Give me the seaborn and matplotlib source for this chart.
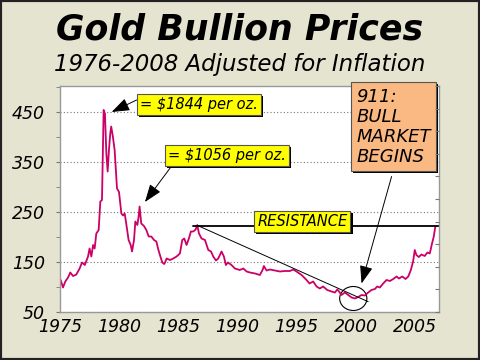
import matplotlib
matplotlib.use("Agg")
import matplotlib.pyplot as plt
import matplotlib.patheffects as pe
from matplotlib.patches import Ellipse, Rectangle
import seaborn as sns
import pandas as pd

# gold price (inflation adjusted)
years = [1975.06, 1975.25, 1975.45, 1975.68, 1975.87, 1976.1, 1976.38, 1976.66, 1976.86,
         1977.1, 1977.37, 1977.5, 1977.65, 1977.8, 1977.93, 1978.07, 1978.27, 1978.41,
         1978.55, 1978.69, 1978.8, 1978.92, 1979.03, 1979.14, 1979.25, 1979.33, 1979.47,
         1979.62, 1979.82, 1979.99, 1980.19, 1980.33, 1980.47, 1980.6, 1980.8, 1980.98,
         1981.09, 1981.26, 1981.37, 1981.54, 1981.65, 1981.73, 1981.87, 1982.1, 1982.3,
         1982.5, 1982.72, 1982.95, 1983.15, 1983.3, 1983.45, 1983.65, 1983.82, 1984.02,
         1984.3, 1984.58, 1984.86, 1985.14, 1985.34, 1985.51, 1985.7, 1985.9, 1986.07,
         1986.27, 1986.47, 1986.61, 1986.75, 1986.97, 1987.26, 1987.54, 1987.77, 1987.96,
         1988.19, 1988.38, 1988.66, 1988.86, 1989.03, 1989.2, 1989.5, 1989.79, 1990.2,
         1990.5, 1990.78, 1991.06, 1991.5, 1991.9, 1992.13, 1992.24, 1992.47, 1992.75,
         1993.17, 1993.6, 1994.0, 1994.44, 1994.72, 1995.0, 1995.43, 1995.85, 1996.1,
         1996.41, 1996.7, 1996.97, 1997.25, 1997.6, 1997.96, 1998.25, 1998.45, 1998.6,
         1998.8, 1999.09, 1999.37, 1999.66, 1999.94, 2000.22, 2000.5, 2000.78, 2001.06,
         2001.34, 2001.63, 2001.82, 2002.05, 2002.33, 2002.61, 2002.9, 2003.18, 2003.46,
         2003.66, 2003.94, 2004.22, 2004.45, 2004.67, 2004.86, 2005.0, 2005.14, 2005.34,
         2005.56, 2005.84, 2006.07, 2006.27, 2006.46, 2006.6, 2006.74]
prices = [114, 99, 111, 119, 129, 122, 125, 137, 149,
          144, 161, 177, 161, 184, 177, 207, 214, 271,
          274, 454, 447, 367, 331, 374, 407, 421, 401,
          374, 297, 290, 247, 243, 247, 227, 194, 184,
          171, 194, 231, 224, 241, 261, 227, 222, 214,
          201, 201, 194, 191, 176, 164, 149, 146, 157,
          154, 157, 161, 167, 194, 197, 184, 197, 211,
          211, 215, 224, 207, 197, 194, 174, 171, 161,
          153, 157, 171, 161, 144, 149, 144, 137, 134,
          137, 131, 129, 127, 124, 134, 142, 133, 135,
          133, 131, 132, 132, 135, 131, 124, 114, 107,
          111, 101, 97, 101, 94, 91, 89, 95, 91,
          84, 89, 84, 79, 77, 80, 84, 83, 89,
          94, 96, 101, 99, 107, 114, 112, 116, 121,
          117, 121, 116, 121, 134, 151, 174, 164, 160,
          165, 162, 169, 167, 187, 200, 221]

resistance = 223
trend_x = [1986.67, 2001.06]
trend_y = [222.6, 70.6]

df = pd.DataFrame({"year": years, "price": prices})

sns.set_style("white")
plt.rcParams['font.family'] = ['DejaVu Sans']
plt.rcParams['text.color'] = 'black'
bg = '#E4E4D0'

fig = plt.figure(figsize=(4.8, 3.6), dpi=100, facecolor=bg)
ax = fig.add_axes([60/480, 48/360, 379/480, 226/360])
ax.set_facecolor('white')

sns.lineplot(data=df, x="year", y="price", ax=ax, color='#CC0066', lw=1.3)

ax.set_xlim(1975, 2007.05)
ax.set_ylim(50, 502)
ax.set_xlabel('')
ax.set_ylabel('')
ax.set_yticks([50, 150, 250, 350, 450])
ax.set_yticks([100, 200, 300, 400, 500], minor=True)
ax.set_xticks([1975, 1980, 1985, 1990, 1995, 2000, 2005])
ax.yaxis.grid(True, which='major', linestyle=(0, (1, 2)), color='#777', lw=0.8)
ax.tick_params(axis='both', which='both', direction='out', length=3, color='#777',
               labelsize=12.5, labelcolor='black', pad=1)
ax.tick_params(axis='y', pad=8)
for lab in ax.get_xticklabels() + ax.get_yticklabels():
    lab.set_fontstyle('italic')
for s in ax.spines.values():
    s.set_color('#999')
    s.set_linewidth(1)

# right side tick marks
ax2 = ax.twinx()
ax2.set_ylim(0, 10)
ax2.set_yticks(range(0, 11))
ax2.tick_params(axis='y', direction='in', length=3, color='#777', labelright=False)
for s in ax2.spines.values():
    s.set_visible(False)

# resistance and trend lines
ax.plot([1986.24, 2007.05], [resistance, resistance], color='black', lw=1.3)
ax.plot(trend_x, trend_y, color='black', lw=0.7)
ax.add_patch(Ellipse((1999.8, 77), 2.3, 48, fill=False, ec='black', lw=0.8))

shadow = [pe.withSimplePatchShadow(offset=(1.5, -1.5), shadow_rgbFace='black', alpha=1)]
arrow = dict(arrowstyle='-|>,head_length=1.1,head_width=0.4', color='black', lw=0.7,
             shrinkA=0, shrinkB=0, mutation_scale=10)

def box(x, y, s, fc, size, **kw):
    t = ax.text(x, y, s, fontsize=size, fontstyle='italic', color='black', clip_on=False,
                zorder=5,
                bbox=dict(boxstyle=kw.pop('bs', 'square,pad=0.2'), fc=fc, ec='#555', lw=0.8), **kw)
    t.get_bbox_patch().set_path_effects(shadow)
    return t

ax.annotate('', xy=(1979.37, 450), xytext=(1981.48, 474), arrowprops=arrow)
ax.annotate('', xy=(1982.18, 270), xytext=(1984.44, 342), arrowprops=arrow)
ax.annotate('', xy=(2000.5, 107), xytext=(2003.04, 321), arrowprops=arrow, zorder=6)

box(1986.77, 465, '= $1844 per oz.', '#FFFF00', 10.5, ha='center', va='center')
box(1989.13, 363, '= $1056 per oz.', '#FFFF00', 10.5, ha='center', va='center')
box(1995.5, 231, 'RESISTANCE', '#FFFF00', 10.5, ha='center', va='center')
box(2000.06, 499, '911:\nBULL\nMARKET\nBEGINS', '#FAB882', 13, ha='left', va='top',
    linespacing=1.15, bs='square,pad=0.3')

fig.text(0.5, 1 - 30/360, 'Gold Bullion Prices', ha='center', va='center',
         fontsize=25, fontweight='bold', fontstyle='italic', color='black')
fig.text(0.5, 1 - 64/360, '1976-2008 Adjusted for Inflation', ha='center', va='center',
         fontsize=16.5, fontstyle='italic', color='black')

fig.patches.append(Rectangle((0, 0), 1, 1, transform=fig.transFigure, fill=False,
                             ec='#222', lw=3))

fig.savefig('out.png', dpi=100, facecolor=bg)
